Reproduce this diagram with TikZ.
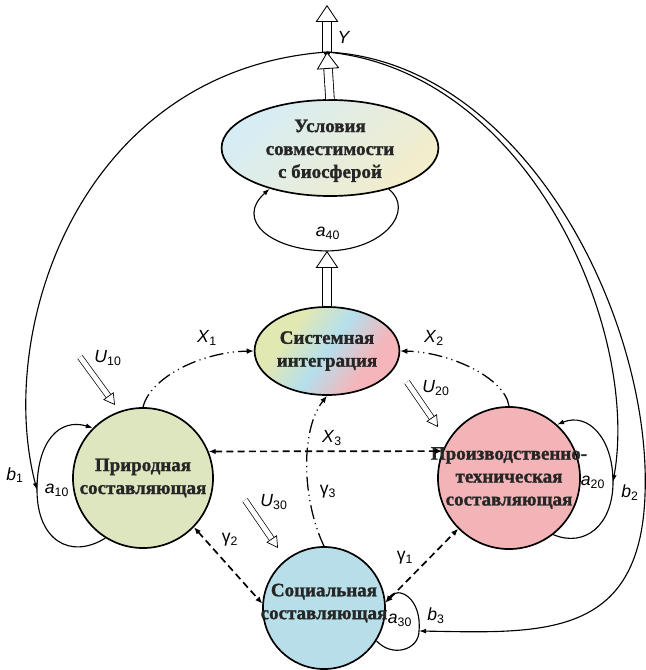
\documentclass[tikz,border=0pt]{standalone}
\usepackage{fontspec}
\setmainfont{Liberation Serif}
\setsansfont{Liberation Sans}
\newfontfamily\blk[FakeBold=1.3]{Liberation Serif}
\usetikzlibrary{arrows.meta,shapes.geometric}
\definecolor{bioA}{HTML}{D6EDF5}
\definecolor{bioB}{HTML}{F3EDCB}
\definecolor{sysA}{HTML}{E2E8B2}
\definecolor{sysB}{HTML}{B5DFEC}
\definecolor{sysC}{HTML}{F4B6BA}
\definecolor{natF}{HTML}{DEE6BF}
\definecolor{indF}{HTML}{F3B4B7}
\definecolor{socF}{HTML}{B8DFE9}
\pgfdeclarehorizontalshading{sysmix}{100bp}{color(0bp)=(sysA); color(33bp)=(sysA); color(50bp)=(sysB); color(67bp)=(sysC); color(100bp)=(sysC)}
\newcommand{\lab}[2]{\textit{#1}\textsubscript{#2}}

\begin{document}
\begin{tikzpicture}[x=0.025cm, y=-0.025cm,
    comp/.style={draw, line width=1.2pt, inner sep=0pt},
    txt/.style={font=\blk\bfseries\fontsize{13.5}{16.3}\selectfont, align=center, text=black!85},
    lbl/.style={font=\sffamily\fontsize{12.5}{14}\selectfont},
    hollow/.style={line width=0.6pt, double=white, double distance=5.5pt,
        -{Triangle[open, fill=white, line width=0.6pt, length=12pt, width=16pt]}},
    hollowsm/.style={line width=0.5pt, double=white, double distance=3.5pt,
        -{Triangle[open, fill=white, line width=0.5pt, length=8pt, width=9pt]}},
    dsh/.style={line width=1.2pt, dash pattern=on 5pt off 3pt,
        {Latex[length=5pt, width=4pt]}-{Latex[length=5pt, width=4pt]}},
    ddot/.style={line width=0.9pt, dash pattern=on 10pt off 3pt on 0.8pt off 3pt on 0.8pt off 3pt,
        -{Latex[length=5pt, width=4pt]}},
    fb/.style={line width=0.8pt, -{Latex[length=5pt, width=3.5pt]}}]

    \useasboundingbox (0,0) rectangle (645,670);

    % blocks
    \node[comp, ellipse, minimum width=5.42cm, minimum height=2.4cm,
          top color=bioA, bottom color=bioB, shading angle=45,
          label={[txt, yshift=-2pt]center:Условия\\совместимости\\с биосферой}] (bio) at (330,148) {};
    \node[comp, ellipse, minimum width=3.62cm, minimum height=2.2cm,
          shade, shading=sysmix, shading angle=-35,
          label={[txt]center:Системная\\интеграция}] (sys) at (327,351) {};
    \node[comp, circle, minimum size=3.5cm, fill=natF,
          label={[txt]center:Природная\\составляющая}] (nat) at (143,478) {};
    \node[comp, circle, minimum size=3.55cm, fill=indF,
          label={[txt]center:Производственно-\\техническая\\составляющая}] (ind) at (509,478) {};
    \node[comp, circle, minimum size=3.05cm, fill=socF,
          label={[txt, yshift=3.5pt]center:Социальная\\составляющая}] (soc) at (324,608) {};

    % output
    \node[circle, fill, inner sep=0pt, minimum size=5pt] (Y) at (327,52) {};
    \coordinate (out) at (327,5);
    \coordinate (a40b) at (327,251);
    \draw[hollow] (Y.center) -- (out);
    \draw[hollow] (bio.north) -- (Y.center);
    \draw[hollow] (sys.north) -- (a40b);

    % self loops
    \coordinate (b1in) at (37,490);
    \coordinate (b2in) at (613,482);
    \coordinate (b3in) at (419,631);
    \draw[fb] (bio.-35) .. controls (415,210) and (385,250) .. (a40b)
        .. controls (270,250) and (235,220) .. (bio.-146);
    \draw[fb] (nat.-122) .. controls (70,560) and (37,540) .. (b1in)
        .. controls (37,440) and (60,418) .. (nat.135);
    \draw[fb] (ind.-52) .. controls (585,548) and (613,525) .. (b2in)
        .. controls (613,438) and (588,412) .. (ind.48);
    \draw[fb] (soc.-32) .. controls (392,658) and (419,650) .. (b3in)
        .. controls (422,598) and (398,585) .. (soc.5);

    % feedback
    \draw[fb] (Y.center) .. controls (80,70) and (-5,330) .. (b1in);
    \draw[fb] (Y.center) .. controls (530,72) and (640,330) .. (b2in);
    \draw[fb] (Y.center) .. controls (525,62) and (652,320) .. (645,495)
        .. controls (640,640) and (540,633) .. (b3in);

    % inputs
    \coordinate (u10a) at (80,357);  \coordinate (u10b) at (115,405);
    \coordinate (u20a) at (407,382); \coordinate (u20b) at (438,427);
    \coordinate (u30a) at (245,500); \coordinate (u30b) at (278,548);
    \draw[hollowsm] (u10a) -- (u10b);
    \draw[hollowsm] (u20a) -- (u20b);
    \draw[hollowsm] (u30a) -- (u30b);

    % links
    \draw[dsh] (nat.22) -- (ind.158);
    \draw[dsh] (nat.-44) -- (soc.176);
    \draw[dsh] (soc.5) -- (ind.-135);
    \draw[ddot] (nat.90) .. controls (150,378) and (200,352) .. (sys.west);
    \draw[ddot] (ind.90) .. controls (505,378) and (450,352) .. (sys.east);
    \draw[ddot] (soc.north) .. controls (302,500) and (300,430) .. (sys.south);

    % labels
    \node[lbl] at (344,37) {\textit{Y}};
    \node[lbl] at (328,233) {\lab{a}{40}};
    \node[lbl] at (207,338) {\lab{X}{1}};
    \node[lbl] at (434,338) {\lab{X}{2}};
    \node[lbl] at (332,438) {\lab{X}{3}};
    \node[lbl] at (108,358) {\lab{U}{10}};
    \node[lbl] at (436,388) {\lab{U}{20}};
    \node[lbl] at (274,502) {\lab{U}{30}};
    \node[lbl] at (15,475) {\lab{b}{1}};
    \node[lbl] at (57,490) {\lab{a}{10}};
    \node[lbl] at (593,482) {\lab{a}{20}};
    \node[lbl] at (630,493) {\lab{b}{2}};
    \node[lbl] at (400,620) {\lab{a}{30}};
    \node[lbl] at (436,616) {\lab{b}{3}};
    \node[lbl] at (230,540) {γ\textsubscript{2}};
    \node[lbl] at (405,558) {γ\textsubscript{1}};
    \node[lbl] at (328,492) {γ\textsubscript{3}};
\end{tikzpicture}
\end{document}
